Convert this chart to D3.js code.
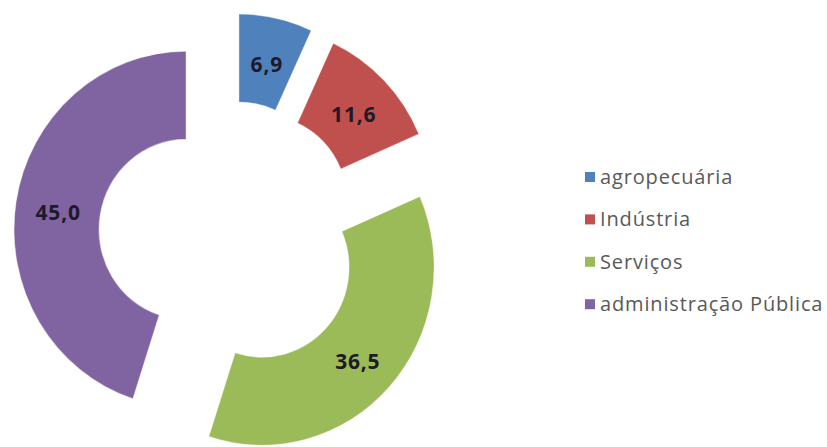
<!DOCTYPE html>
<html>
<head>
<meta charset="utf-8">
<script src="https://cdn.jsdelivr.net/npm/d3@7"></script>
<style>
  html, body { margin: 0; padding: 0; background: #fff; }
  svg { display: block; }
</style>
</head>
<body>
<svg id="chart" width="827" height="447"></svg>
<script>
const categories = ["agropecuária", "Indústria", "Serviços", "administração Pública"];
const values = [6.9, 11.6, 36.5, 45.0];
const labels = ["6,9", "11,6", "36,5", "45,0"];
const colors = ["#4F81BD", "#C0504D", "#9BBB59", "#8064A2"];

const svg = d3.select("#chart");
const cx = 229.5, cy = 236.5, sy = 1.035;
const outerR = 172, innerR = 87, explode = 44;

const data = categories.map((c, i) => ({ name: c, value: values[i], label: labels[i], color: colors[i] }));
const pie = d3.pie().sort(null).value(d => d.value).startAngle(0).endAngle(2 * Math.PI);
const arc = d3.arc().innerRadius(innerR).outerRadius(outerR);
const arcs = pie(data);
const off = d => {
  const a = (d.startAngle + d.endAngle) / 2;
  return [explode * Math.sin(a), -explode * Math.cos(a)];
};

const g = svg.append("g").attr("transform", `translate(${cx},${cy}) scale(1,${sy})`);
g.selectAll("path").data(arcs).enter().append("path")
  .attr("transform", d => `translate(${off(d)})`)
  .attr("d", arc).attr("fill", d => d.data.color)
  .attr("stroke", "rgba(255,255,255,0.4)").attr("stroke-width", 1);

svg.append("g").selectAll("text").data(arcs).enter().append("text")
  .attr("x", d => cx + off(d)[0] + arc.centroid(d)[0])
  .attr("y", d => cy + (off(d)[1] + arc.centroid(d)[1]) * sy + 4)
  .attr("text-anchor", "middle").attr("dy", "0.35em")
  .style("font-family", "'Open Sans', 'DejaVu Sans', sans-serif")
  .style("font-weight", "bold").style("font-size", "21px").style("letter-spacing", "0.8px")
  .attr("fill", "#1f1a2a")
  .text(d => d.data.label);

const legend = svg.append("g").attr("transform", "translate(585,177)");
const item = legend.selectAll("g").data(data).enter().append("g")
  .attr("transform", (d, i) => `translate(0,${i * 42.4})`);
item.append("rect").attr("x", 0).attr("y", -5).attr("width", 10).attr("height", 10)
  .attr("fill", d => d.color);
item.append("text").attr("x", 15).attr("dy", "0.35em")
  .style("font-family", "'Open Sans', 'DejaVu Sans', sans-serif")
  .style("font-size", "20px").style("letter-spacing", "0.85px").attr("fill", "#595959")
  .text(d => d.name);
</script>
</body>
</html>
